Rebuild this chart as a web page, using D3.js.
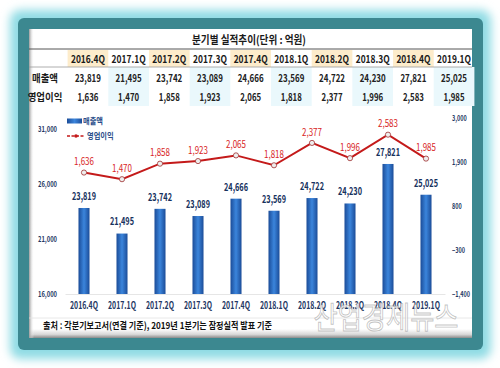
<!DOCTYPE html>
<html><head><meta charset="utf-8">
<script src="https://cdn.jsdelivr.net/npm/d3@7"></script>
<style>
html,body{margin:0;padding:0;background:#fff;}
svg{display:block;}
text{font-family:"Noto Sans CJK KR","Noto Sans",sans-serif;}
</style></head>
<body>
<svg id="c" width="500" height="368"></svg>
<script>
const categories = ["2016.4Q","2017.1Q","2017.2Q","2017.3Q","2017.4Q","2018.1Q","2018.2Q","2018.3Q","2018.4Q","2019.1Q"];
const sales = [23819,21495,23742,23089,24666,23569,24722,24230,27821,25025];
const profit = [1636,1470,1858,1923,2065,1818,2377,1996,2583,1985];
const leftTicks = [16000,21000,26000,31000];
const rightTicks = [-1400,-300,800,1900,3000];
const rowLabels = ["매출액","영업이익"];
const seriesNames = ["매출액","영업이익"];
const titleText = "분기별 실적추이(단위 : 억원)";
const footerText = "출처 : 각분기보고서(연결 기준), 2019년 1분기는 잠정실적 발표 기준";
const watermarkText = "산업경제뉴스";

const svg = d3.select("#c");
const defs = svg.append("defs");
const fmt = d3.format(",");

// squeeze helper: scale text width so reference element gets target width
function squeeze(sel, ratio){
  sel.each(function(){
    const L = this.getComputedTextLength();
    this.setAttribute("textLength", (L*ratio).toFixed(2));
    this.setAttribute("lengthAdjust","spacingAndGlyphs");
  });
}
function ratioFor(sel, target){
  const n = sel.node(); return target / n.getComputedTextLength();
}

// ---------- frame ----------
const blur = defs.append("filter").attr("id","glow").attr("x","-20%").attr("y","-20%").attr("width","140%").attr("height","140%");
blur.append("feGaussianBlur").attr("stdDeviation",5);
svg.append("rect").attr("x",10).attr("y",10).attr("width",481).attr("height",349).attr("rx",10)
  .attr("fill","#8fdbe4").attr("filter","url(#glow)");
svg.append("rect").attr("x",18).attr("y",18).attr("width",465).attr("height",332).attr("rx",6)
  .attr("fill","#3c8890");
svg.append("rect").attr("x",29).attr("y",29).attr("width",443).attr("height",309).attr("fill","#ffffff");
const gB = defs.append("linearGradient").attr("id","gB").attr("x1",0).attr("y1",0).attr("x2",0).attr("y2",1);
gB.append("stop").attr("offset","0").attr("stop-color","#ffffff");
gB.append("stop").attr("offset","0.6").attr("stop-color","#d8d8d8");
gB.append("stop").attr("offset","1").attr("stop-color","#8a8a8a");
svg.append("rect").attr("x",29).attr("y",329).attr("width",443).attr("height",9).attr("fill","url(#gB)");
const gL = defs.append("linearGradient").attr("id","gL").attr("x1",0).attr("y1",0).attr("x2",1).attr("y2",0);
gL.append("stop").attr("offset","0").attr("stop-color","#9a9a9a");
gL.append("stop").attr("offset","1").attr("stop-color","#ffffff").attr("stop-opacity",0);
svg.append("rect").attr("x",29).attr("y",29).attr("width",5).attr("height",309).attr("fill","url(#gL)");

// ---------- table ----------
const tx = d3.scaleBand().domain(categories).range([67.6, 474.4]);
const tbl = svg.append("g");
tbl.selectAll("rect.hd").data(categories.filter((d,i)=>i%2===0)).join("rect")
  .attr("x",d=>tx(d)).attr("y",50).attr("width",tx.bandwidth()).attr("height",17).attr("fill","#fdeccb");
tbl.selectAll("rect.vb").data(categories.filter((d,i)=>i%2===1)).join("rect")
  .attr("x",d=>tx(d)).attr("y",67).attr("width",tx.bandwidth()).attr("height",39).attr("fill","#eaf8fc");
tbl.append("line").attr("x1",29).attr("x2",472).attr("y1",49).attr("y2",49).attr("stroke","#555").attr("stroke-width",1);
tbl.append("line").attr("x1",29).attr("x2",472).attr("y1",67).attr("y2",67).attr("stroke","#999").attr("stroke-width",0.8);

const title = tbl.append("text").attr("x",249).attr("y",40).attr("dy","0.35em").attr("text-anchor","middle")
  .attr("font-size",11).attr("font-weight",700).attr("fill","#1a1a1a").text(titleText);
squeeze(title, ratioFor(title,114));

const hdr = tbl.selectAll("text.hdr").data(categories).join("text").attr("class","hdr")
  .attr("x",d=>tx(d)+tx.bandwidth()/2).attr("y",59).attr("dy","0.35em").attr("text-anchor","middle")
  .attr("font-size",10.5).attr("font-weight",700).attr("fill","#1a1a1a").text(d=>d);
squeeze(hdr, ratioFor(hdr,34));

const rowsY = [78,97];
const rowData = [sales, profit];
rowData.forEach((arr,r)=>{
  const t = tbl.selectAll("text.v"+r).data(arr).join("text").attr("class","v"+r)
    .attr("x",(d,i)=>tx(categories[i])+tx.bandwidth()/2).attr("y",rowsY[r]).attr("dy","0.35em")
    .attr("text-anchor","middle").attr("font-size",10.5).attr("font-weight",700).attr("fill","#222").text(d=>fmt(d));
  squeeze(t, r===0 ? ratioFor(t,26) : ratioFor(t,21));
});
const rl = tbl.selectAll("text.rl").data(rowLabels).join("text").attr("class","rl")
  .attr("x",45).attr("y",(d,i)=>rowsY[i]).attr("dy","0.35em").attr("text-anchor","middle")
  .attr("font-size",10.5).attr("font-weight",700).attr("fill","#1a1a1a").text(d=>d);
squeeze(rl, ratioFor(rl,26));

// ---------- chart ----------
const x = d3.scaleBand().domain(categories).range([65,445]).paddingInner(0.71).paddingOuter(0.355);
const yL = d3.scaleLinear().domain([16000,31000]).range([294,129]);
const yR = d3.scaleLinear().domain([-1400,3000]).range([294,118]);

const gBar = defs.append("linearGradient").attr("id","gBar").attr("x1",0).attr("y1",0).attr("x2",1).attr("y2",0);
gBar.append("stop").attr("offset","0").attr("stop-color","#1b4c98");
gBar.append("stop").attr("offset","0.5").attr("stop-color","#3b85dc");
gBar.append("stop").attr("offset","1").attr("stop-color","#1b4c98");

svg.append("g").selectAll("rect").data(sales).join("rect")
  .attr("x",(d,i)=>x(categories[i])).attr("width",x.bandwidth())
  .attr("y",d=>yL(d)).attr("height",d=>yL(16000)-yL(d)).attr("fill","url(#gBar)");

const bl = svg.append("g").selectAll("text").data(sales).join("text")
  .attr("x",(d,i)=>x(categories[i])+x.bandwidth()/2).attr("y",d=>yL(d)-12).attr("dy","0.35em")
  .attr("text-anchor","middle").attr("font-size",11).attr("font-weight",700).attr("fill","#17325e").text(d=>fmt(d));
squeeze(bl, ratioFor(bl,24));

// axes
const axL = svg.append("g").attr("transform","translate(57,0)")
  .call(d3.axisLeft(yL).tickValues(leftTicks).tickSize(0).tickPadding(0).tickFormat(fmt));
axL.select(".domain").remove();
axL.selectAll("text").attr("font-size",7.5).attr("font-weight",700).attr("fill","#1f3864")
  .attr("font-family","\"Noto Sans CJK KR\",sans-serif");
squeeze(axL.selectAll("text"), ratioFor(axL.selectAll("text"),19));

const axR = svg.append("g").attr("transform","translate(452,0)")
  .call(d3.axisRight(yR).tickValues(rightTicks).tickSize(0).tickPadding(0).tickFormat(fmt));
axR.select(".domain").remove();
axR.selectAll("text").attr("font-size",7.5).attr("font-weight",700).attr("fill","#1f3864")
  .attr("font-family","\"Noto Sans CJK KR\",sans-serif");
squeeze(axR.selectAll("text"), ratioFor(axR.selectAll("text").filter(d=>d===-1400),18));

const axB = svg.append("g").attr("transform","translate(0,294)")
  .call(d3.axisBottom(x).tickSize(0).tickPadding(8));
axB.select(".domain").attr("stroke","#e6e6e6");
axB.selectAll("text").attr("font-size",10).attr("font-weight",700).attr("fill","#1f3864")
  .attr("font-family","\"Noto Sans CJK KR\",sans-serif");
squeeze(axB.selectAll("text"), ratioFor(axB.selectAll("text"),28));

// line
const line = d3.line().x((d,i)=>x(categories[i])+x.bandwidth()/2).y(d=>yR(d));
svg.append("path").datum(profit).attr("d",line).attr("fill","none").attr("stroke","#c41a1a").attr("stroke-width",2);
svg.append("g").selectAll("circle").data(profit).join("circle")
  .attr("cx",(d,i)=>x(categories[i])+x.bandwidth()/2).attr("cy",d=>yR(d)).attr("r",2.6)
  .attr("fill","#eeeeee").attr("stroke","#a03030").attr("stroke-width",0.8);
const ll = svg.append("g").selectAll("text").data(profit).join("text")
  .attr("x",(d,i)=>x(categories[i])+x.bandwidth()/2).attr("y",d=>yR(d)-11).attr("dy","0.35em")
  .attr("text-anchor","middle").attr("font-size",10.5).attr("fill","#d81e1e").text(d=>fmt(d));
squeeze(ll, ratioFor(ll,20));

// legend
const lg = svg.append("g");
lg.append("rect").attr("x",67).attr("y",118.5).attr("width",15).attr("height",5).attr("fill","url(#gBar)");
lg.append("line").attr("x1",67).attr("x2",85).attr("y1",136).attr("y2",136).attr("stroke","#c41a1a").attr("stroke-width",1.6).attr("stroke-dasharray","3,1.5");
lg.append("circle").attr("cx",76).attr("cy",136).attr("r",1.8).attr("fill","#c41a1a");
const lt = lg.selectAll("text").data(seriesNames).join("text")
  .attr("x",(d,i)=>i===0?83:87).attr("y",(d,i)=>i===0?121:136).attr("dy","0.35em")
  .attr("font-size",8.5).attr("font-weight",700).attr("fill","#2a4e8a").text(d=>d);
squeeze(lt, ratioFor(lt,20));

// footer
svg.append("line").attr("x1",29).attr("x2",472).attr("y1",318).attr("y2",318).attr("stroke","#e2e2e2").attr("stroke-width",0.8);
const ft = svg.append("text").attr("x",43).attr("y",326).attr("dy","0.35em")
  .attr("font-size",9.5).attr("font-weight",700).attr("fill","#111").text(footerText);
squeeze(ft, ratioFor(ft,229));

// watermark
const wm = svg.append("text").attr("x",386).attr("y",317).attr("dy","0.35em").attr("text-anchor","middle")
  .attr("font-size",30).attr("font-weight",400).attr("fill","#ffffff").attr("fill-opacity",0.75)
  .attr("stroke","#9a9a9a").attr("stroke-opacity",0.6).attr("stroke-width",0.9).text(watermarkText);
squeeze(wm, ratioFor(wm,145));
</script>
</body></html>
